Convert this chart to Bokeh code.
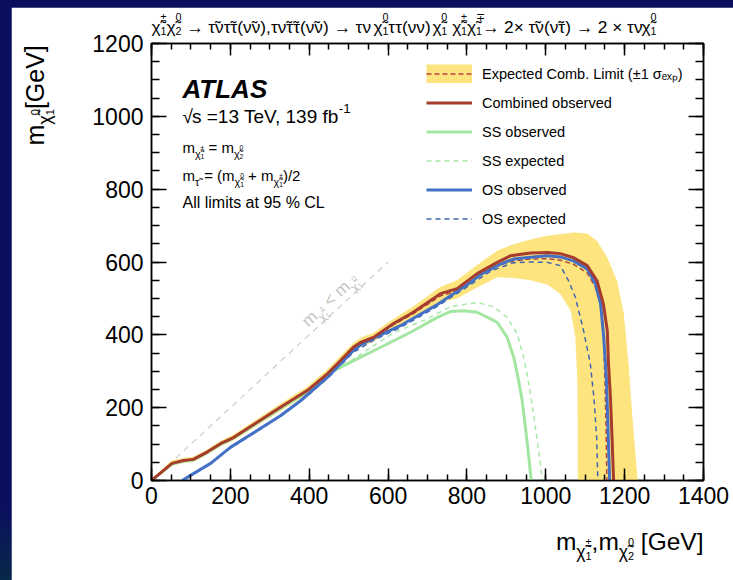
import math
from bokeh.plotting import figure
from bokeh.models import (Range1d, LinearAxis, SingleIntervalTicker, Legend, LegendItem,
                          ColumnDataSource)
from bokeh.core.properties import value
from bokeh.layouts import column
from bokeh.embed import file_html
from bokeh.resources import INLINE

# ---------------- data (GeV) ----------------
band_up_x = [0, 50, 80, 106, 141, 175, 208, 268, 327, 395, 446, 479, 512, 530, 563, 614, 664,
             733, 775, 826, 877, 918, 961, 1004, 1070, 1105, 1130, 1156, 1181, 1198, 1210,
             1219, 1228, 1233]
band_up_y = [4, 54, 62, 65, 85, 109, 126, 169, 211, 258, 305, 342, 378, 392, 406, 444, 478,
             532, 550, 592, 631, 649, 662, 672, 681, 678, 658, 612, 548, 457, 320, 183, 64, 0]
band_lo_x = [0, 50, 80, 106, 141, 175, 208, 268, 327, 395, 446, 479, 512, 530, 563, 614, 664,
             733, 775, 826, 877, 918, 961, 1004, 1037, 1063, 1075, 1080, 1081, 1081]
band_lo_y = [0, 40, 48, 51, 71, 94, 110, 151, 191, 236, 280, 316, 352, 366, 381, 418, 447,
             490, 500, 530, 558, 556, 550, 538, 512, 466, 393, 274, 137, 0]

exp_comb_x = [0, 52, 81, 106, 141, 175, 208, 268, 327, 395, 446, 479, 512, 530, 563, 614, 664,
              733, 775, 826, 877, 918, 961, 1004, 1037, 1070, 1105, 1126, 1139, 1146, 1150,
              1153, 1155]
exp_comb_y = [0, 46, 54, 57, 77, 100, 117, 159, 200, 246, 291, 327, 362, 375, 390, 428, 458,
              507, 521, 560, 590, 603, 608, 609, 605, 594, 570, 530, 480, 400, 280, 140, 0]

comb_obs_x = [0, 52, 81, 106, 141, 175, 208, 268, 327, 395, 446, 479, 512, 530, 563, 614, 664,
              733, 775, 826, 877, 910, 961, 1004, 1037, 1070, 1105, 1130, 1146, 1156, 1159,
              1164, 1168, 1172]
comb_obs_y = [0, 47, 55, 58, 78, 101, 118, 160, 201, 247, 293, 329, 366, 379, 393, 431, 462,
              513, 527, 568, 599, 617, 625, 626, 623, 612, 590, 548, 485, 411, 321, 228, 119, 0]

ss_obs_x = [0, 52, 81, 106, 141, 175, 208, 268, 327, 395, 446, 505, 589, 657, 725, 758, 792,
            826, 860, 877, 902, 919, 930, 940, 949, 957, 963]
ss_obs_y = [0, 45, 53, 56, 76, 99, 116, 157, 198, 244, 292, 325, 370, 407, 448, 464, 466,
            462, 444, 434, 393, 338, 280, 220, 140, 64, 0]

ss_exp_x = [0, 52, 81, 106, 141, 175, 208, 268, 327, 395, 446, 512, 563, 614, 657, 690, 758,
            826, 868, 902, 928, 944, 957, 970, 982, 991]
ss_exp_y = [0, 45, 53, 56, 76, 99, 116, 157, 198, 244, 292, 333, 370, 405, 425, 439, 477,
            489, 477, 448, 402, 338, 265, 174, 82, 0]

os_obs_x = [78, 99, 150, 200, 268, 327, 378, 446, 512, 530, 563, 631, 725, 809, 834, 885, 918,
            961, 1004, 1037, 1070, 1105, 1126, 1139, 1147, 1154, 1158, 1162]
os_obs_y = [0, 14, 47, 91, 137, 178, 219, 283, 357, 372, 390, 425, 483, 544, 565, 594, 608,
            613, 617, 614, 603, 581, 540, 485, 393, 274, 137, 0]

os_exp_x = [78, 99, 150, 200, 268, 327, 378, 446, 512, 563, 631, 725, 809, 860, 918, 961, 1004,
            1037, 1058, 1075, 1096, 1113, 1122, 1129, 1132]
os_exp_y = [0, 14, 46, 89, 135, 176, 217, 280, 352, 385, 420, 478, 538, 575, 598, 600, 599,
            590, 548, 503, 411, 320, 228, 119, 0]

diag_x = [0, 600]
diag_y = [0, 600]

x_ticks_interval = 200
y_ticks_interval = 200

legend_labels = ["Expected Comb. Limit (\u00b11 \u03c3\u2091\u2093\u209a)", "Combined observed",
                 "SS observed", "SS expected", "OS observed", "OS expected"]

# ---------------- geometry ----------------
FONT = "Liberation Sans"
W, H = 722, 573
FL, FR, FT, FB = 140, 30, 36, 100
FW = W - FL - FR
FH = H - FT - FB
XMAX, YMAX = 1400, 1200
OX, OY = 11, 7
YSIGN = -1.0  # text glyph y_offset: positive is downwards


def DX(px):
    return (px - OX - FL) * XMAX / FW


def DY(py):
    return (OY + FT + FH - py) * YMAX / FH


p = figure(width=W, height=H, x_range=Range1d(0, XMAX), y_range=Range1d(0, YMAX),
           output_backend="svg", toolbar_location=None,
           min_border_left=FL, min_border_right=FR, min_border_top=FT, min_border_bottom=FB)
p.margin = (OY, 0, 0, OX)
p.xgrid.visible = False
p.ygrid.visible = False
p.background_fill_color = "white"
p.border_fill_color = "white"
p.outline_line_color = "black"
p.outline_line_width = 1.5


def style_axis(ax, horizontal, labels):
    ax.ticker = SingleIntervalTicker(interval=x_ticks_interval if horizontal else y_ticks_interval,
                                     num_minor_ticks=4)
    ax.axis_line_width = 1.5
    ax.major_tick_line_width = 1.5
    ax.minor_tick_line_width = 1.5
    ax.major_tick_out = 0
    ax.minor_tick_out = 0
    ax.major_tick_in = 12 if horizontal else 15
    ax.minor_tick_in = 6 if horizontal else 8
    if labels:
        ax.major_label_text_font = FONT
        ax.major_label_text_font_size = "23px"
        ax.major_label_text_color = "black"
        ax.major_label_standoff = 6 if horizontal else 8
    else:
        ax.major_label_text_font_size = "0px"
        ax.major_label_text_alpha = 0
        ax.major_label_standoff = 0


style_axis(p.xaxis[0], True, True)
style_axis(p.yaxis[0], False, True)
top = LinearAxis()
style_axis(top, True, False)
p.add_layout(top, "above")
right = LinearAxis()
style_axis(right, False, False)
p.add_layout(right, "right")

# ---------------- glyphs ----------------
YELLOW = "#fde47e"
RED = "#a53c2e"
GREEN = "#a2e6a2"
GREEN_D = "#a8e8a8"
BLUE = "#4271c6"
BLUE_D = "#3f66b0"

p.line(diag_x, diag_y, line_color="#cccccc", line_width=1.2, line_dash="6 5")
band = p.patch(band_up_x + band_lo_x[::-1], band_up_y + band_lo_y[::-1],
               fill_color=YELLOW, line_color=None)
r_exp = p.line(exp_comb_x, exp_comb_y, line_color="#b4463a", line_width=1.5, line_dash="5 3")
r_ssexp = p.line(ss_exp_x, ss_exp_y, line_color=GREEN_D, line_width=1.5, line_dash="5 4")
r_osexp = p.line(os_exp_x, os_exp_y, line_color=BLUE_D, line_width=1.5, line_dash="5 4")
r_ss = p.line(ss_obs_x, ss_obs_y, line_color=GREEN, line_width=3)
r_os = p.line(os_obs_x, os_obs_y, line_color=BLUE, line_width=3)
r_comb = p.line(comb_obs_x, comb_obs_y, line_color=RED, line_width=3)
# hidden renderer that only supplies the yellow legend swatch
r_swatch = p.line(band_up_x, band_up_y, line_color=YELLOW, line_width=19, line_cap="butt",
                  visible=False)

legend = Legend(items=[
    LegendItem(label=legend_labels[0], renderers=[r_swatch, r_exp]),
    LegendItem(label=legend_labels[1], renderers=[r_comb]),
    LegendItem(label=legend_labels[2], renderers=[r_ss]),
    LegendItem(label=legend_labels[3], renderers=[r_ssexp]),
    LegendItem(label=legend_labels[4], renderers=[r_os]),
    LegendItem(label=legend_labels[5], renderers=[r_osexp]),
], location=(426 - OX - FL, (OY + FT + FH) - (64 + 6 * 19 + 5 * 10)),
    glyph_width=46, glyph_height=19, label_height=19, spacing=10, label_standoff=10,
    padding=0, margin=0, border_line_alpha=0, background_fill_alpha=0,
    inactive_fill_alpha=0, click_policy="none",
    label_text_font=FONT, label_text_font_size="14.5px", label_text_color="black")
p.add_layout(legend)

# ---------------- rich text helper ----------------
CW = {' ': 278, '(': 333, ')': 333, '+': 584, ',': 278, '-': 333, '.': 278, '/': 278, '<': 584,
      '=': 584, '[': 278, ']': 278, '%': 889, '\u00b1': 549, '\u2213': 549, '\u00d7': 584,
      '\u2192': 900, '\u221a': 500,
      'A': 667, 'C': 722, 'E': 667, 'G': 778, 'L': 556, 'S': 667, 'T': 611, 'V': 667,
      'a': 556, 'b': 556, 'c': 500, 'd': 556, 'e': 556, 'f': 278, 'i': 222, 'l': 222, 'm': 833,
      'n': 556, 'o': 556, 'p': 556, 'r': 333, 's': 500, 't': 278, 'v': 500, 'x': 500, 'y': 500,
      '\u03c4': 465, '\u03bd': 478, '\u03c7': 520, '\u03c3': 570, '\u0303': 0}
KERN = "\x00"

rows = {k: [] for k in ("x", "y", "xo", "yo", "text", "angle", "fs", "style", "color")}


def tw(s):
    return sum(CW.get(c, 556) for c in s) / 1000.0


def item_w(t, sc):
    if t == KERN:
        return sc
    return tw(t) * sc


def total_em(items):
    return sum(item_w(t, sc) for t, sc, sh, adv in items if adv)


def rich(items, px, py, size, color="black", angle=0.0, style="normal", anchor="left"):
    total = total_em(items) * size
    pos = 0.0 if anchor == "left" else -total
    ca, sa = math.cos(angle), math.sin(angle)
    for t, sc, sh, adv in items:
        if t == KERN:
            pos += sc * size
            continue
        fs = size * sc
        stripped = t.lstrip(" ")
        lead = tw(t[:len(t) - len(stripped)]) * fs
        stripped = stripped.rstrip(" ")
        if stripped:
            a = pos + lead
            shp = sh * size
            rows["x"].append(DX(px))
            rows["y"].append(DY(py))
            rows["xo"].append(a * ca - shp * sa)
            rows["yo"].append(YSIGN * (a * sa + shp * ca))
            rows["text"].append(stripped)
            rows["angle"].append(angle)
            rows["fs"].append(f"{fs:.2f}px")
            rows["style"].append(style)
            rows["color"].append(color)
        if adv:
            pos += tw(t) * fs


CHI = "\u03c7\u0303"
TAUT = "\u03c4\u0303"
NUT = "\u03bd\u0303"


def N(t):
    return [(t, 1.0, 0.0, True)]


def chi(sub, sup, sc=1.0, base=0.0):
    return [(CHI, sc, base, True), (sup, sc * 0.62, base + sc * 0.55, False),
            (sub, sc * 0.62, base - sc * 0.25, True)]


def mchi(sub, sup, sc=0.72, base=-0.42):
    return N("m") + chi(sub, sup, sc, base)


# title
title_items = (chi("1", "\u00b1") + chi("2", "0") +
               N(" \u2192 " + TAUT + "\u03bd" + TAUT + "\u03c4(" + NUT + "\u03bd),\u03c4" + NUT +
                 TAUT + "\u03c4(" + NUT + "\u03bd) \u2192 \u03c4\u03bd") +
               chi("1", "0") + N("\u03c4\u03c4(\u03bd\u03bd)") + chi("1", "0") + N(" ") +
               chi("1", "\u00b1") + chi("1", "\u2213") +
               N("\u2192 2\u00d7 " + TAUT + "\u03bd(" + NUT + "\u03c4) \u2192 2 \u00d7 \u03c4\u03bd") +
               chi("1", "0"))
title_size = 505.0 / total_em(title_items)
rich(title_items, 151, 26, title_size)

# ATLAS block
rich(N("ATLAS"), 182, 88, 26, style="bold italic")
rich(N("\u221a") + N("s =13 TeV, 139 fb") + [(KERN, -0.2, 0, True), ("-1", 0.7, 0.42, True)],
     182, 116, 19)
rich(mchi("1", "\u00b1") + N(" = ") + mchi("2", "0"), 182, 147, 15)
rich(N("m") + [(TAUT, 0.72, -0.42, True)] + N(" = (") + mchi("1", "0") + N(" + ") +
     mchi("1", "\u00b1") + N(")/2"), 182, 175, 15)
rich(N("All limits at 95 % CL"), 182, 202, 16)

# diagonal label
ang = math.atan2(600 * FH / YMAX, 600 * FW / XMAX)
rich(mchi("1", "\u00b1") + N(" < ") + mchi("1", "0"), 304, 323, 17, color="#c4c4c4", angle=ang)

# axis titles
rich(mchi("1", "0") + N("[GeV]"), 34, 145, 25, angle=math.pi / 2)
rich(mchi("1", "\u00b1") + N(",") + mchi("2", "0") + N(" [GeV]"), 703, 541, 24.5, anchor="right")

src = ColumnDataSource(rows)
p.text(x="x", y="y", text="text", x_offset="xo", y_offset="yo", angle="angle",
       text_font=value(FONT), text_font_size="fs", text_font_style="style", text_color="color",
       text_baseline="alphabetic", text_align="left", source=src, level="overlay")

root = column(p, width=733, height=580,
              styles={"background": "linear-gradient(to bottom, #0b105e 0%, #0b105e 88%, #08284a 100%)"})
open("out.html", "w").write(file_html(root, INLINE))
